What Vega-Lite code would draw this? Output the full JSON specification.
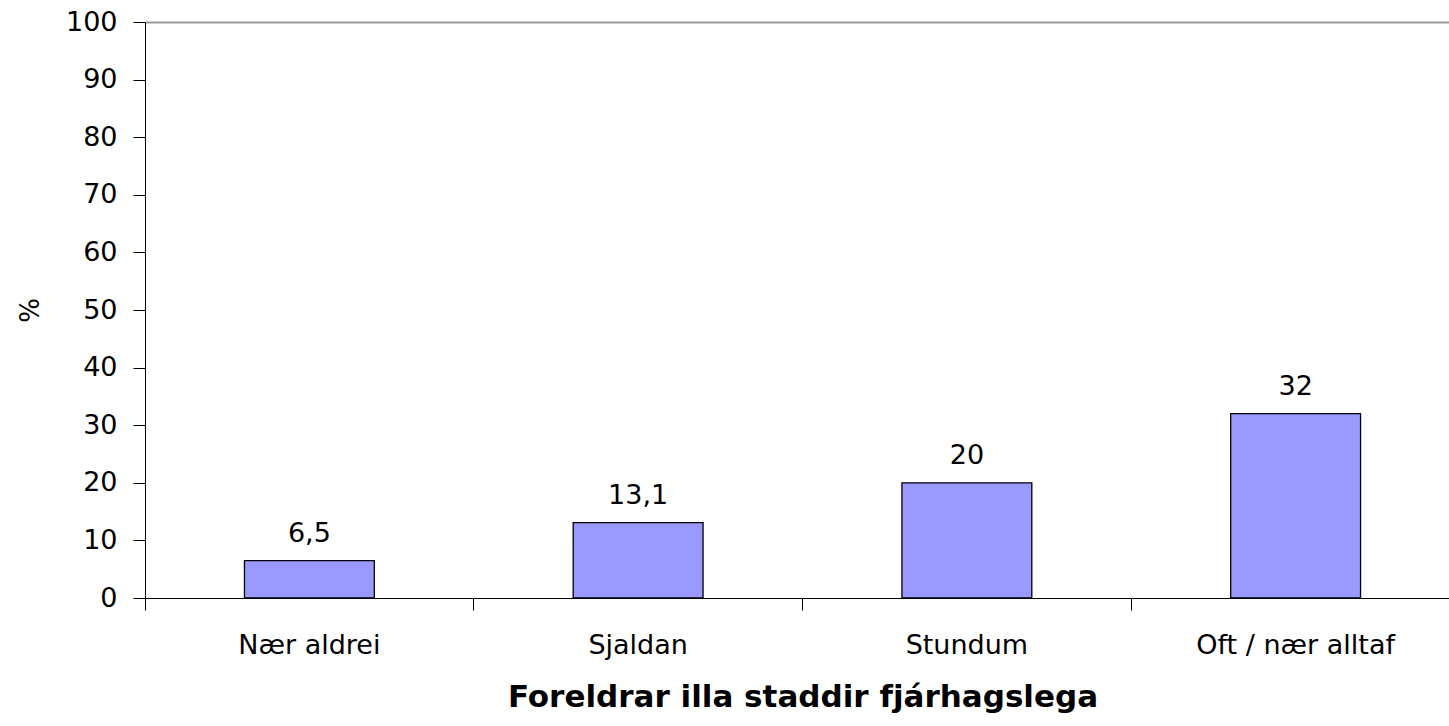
{
  "$schema": "https://vega.github.io/schema/vega-lite/v6.json",
  "autosize": {"type": "none"},
  "padding": {"left": 145, "top": 22, "right": 0, "bottom": 128},
  "width": 1304,
  "height": 576,
  "background": "white",
  "config": {
    "locale": {"number": {"decimal": ",", "thousands": ".", "grouping": [3], "currency": ["", ""]}},
    "font": "DejaVu Sans",
    "view": {"stroke": null}
  },
  "data": {"values": [
    {"cat": "Nær aldrei", "pct": 6.5},
    {"cat": "Sjaldan", "pct": 13.1},
    {"cat": "Stundum", "pct": 20},
    {"cat": "Oft / nær alltaf", "pct": 32}
  ]},
  "encoding": {
    "x": {
      "field": "cat", "type": "nominal", "sort": null,
      "scale": {"range": [0, 1315], "paddingInner": 0, "paddingOuter": 0},
      "axis": {
        "title": "Foreldrar illa staddir fjárhagslega",
        "titleFont": "DejaVu Sans",
        "titleFontSize": 31, "titleFontWeight": "bold", "titleColor": "black",
        "titlePadding": 24,
        "labelAngle": 0, "labelFontSize": 27, "labelColor": "black", "labelPadding": 22,
        "labelLimit": 0,
        "bandPosition": 0, "tickSize": 12, "tickColor": "black", "domainColor": "black",
        "labelFont": "DejaVu Sans"
      }
    },
    "y": {
      "field": "pct", "type": "quantitative",
      "scale": {"domain": [0, 100], "nice": false},
      "axis": {
        "title": "%", "titleFontSize": 26, "titleFontWeight": "normal", "titleColor": "black",
        "titlePadding": 22, "titleFont": "DejaVu Sans",
        "values": [0, 10, 20, 30, 40, 50, 60, 70, 80, 90, 100],
        "labelFontSize": 27, "labelColor": "black", "labelPadding": 16,
        "labelFont": "DejaVu Sans",
        "tickSize": 12, "tickColor": "black", "domainColor": "black",
        "grid": true, "gridColor": "#999999", "gridWidth": 2,
        "gridOpacity": {"condition": {"test": "datum.value === 100", "value": 1}, "value": 0}
      }
    }
  },
  "layer": [
    {"mark": {"type": "bar", "fill": "#9999FF", "stroke": "black", "strokeWidth": 1.3, "width": {"band": 0.395}}},
    {"mark": {"type": "text", "baseline": "alphabetic", "dy": -19, "fontSize": 27, "color": "black", "font": "DejaVu Sans"},
     "encoding": {"text": {"field": "pct", "type": "quantitative", "format": ".1~f"}}}
  ]
}
